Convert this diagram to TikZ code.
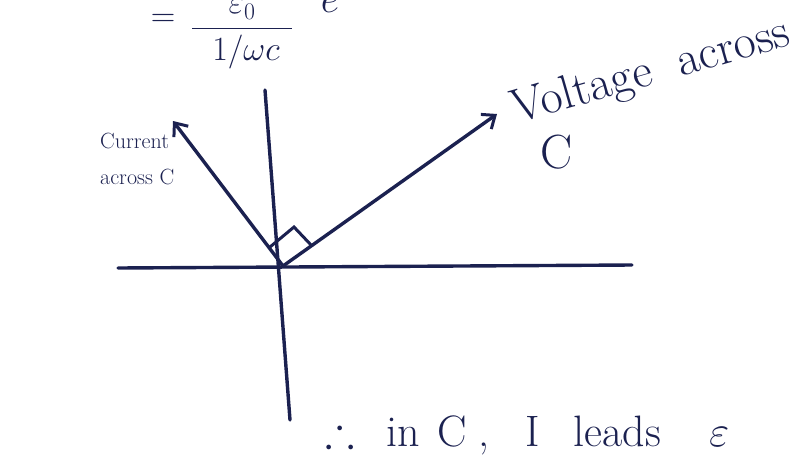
\RequirePackage{fix-cm}
\documentclass[tikz,border=0pt]{standalone}
\usepackage{amsmath,amssymb}
\usepackage{fontspec}
\usetikzlibrary{arrows.meta}
\definecolor{ink}{HTML}{1B2150}
\tikzset{
  axis/.style={draw=ink, line width=3.4pt, line cap=round},
  phasor/.style={draw=ink, line width=3.4pt, line cap=round, -{Straight Barb[length=11pt,width=18pt,line width=3pt]}},
  marker/.style={draw=ink, line width=3pt},
  lbl/.style={text=ink, inner sep=0pt, align=left}
}
\begin{document}
\begin{tikzpicture}[x=1pt,y=-1pt]
\useasboundingbox (0,0) rectangle (811,464);
\clip (0,0) rectangle (811,464);
% origin and axis ends
\coordinate (O) at (283,266);
\coordinate (xl) at (118,268);
\coordinate (xr) at (632,265);
\coordinate (yt) at (265,90);
\coordinate (yb) at (290,420);
\coordinate (I) at (173,121);
\coordinate (V) at (497,114);
\draw[axis] (xl) -- (xr);
\draw[axis] (yt) -- (yb);
\draw[phasor] (O) -- (I);
\draw[phasor] (O) -- (V);
% right-angle marker
\coordinate (m1) at (270,247);
\coordinate (m2) at (294,227);
\coordinate (m3) at (312,246);
\draw[marker] (m1) -- (m2) -- (m3);
% labels
\node[lbl, font=\fontsize{22}{36}\selectfont, anchor=base west] (cur) at (100,148) {Current};
\node[lbl, font=\fontsize{22}{36}\selectfont, anchor=base west] (acr) at (100,184) {across C};
\node[lbl, font=\fontsize{48}{48}\selectfont, anchor=base west, rotate=16] (volt) at (516,124) {Voltage\hspace{28pt}across};
\node[lbl, font=\fontsize{48}{48}\selectfont, anchor=base] (vc) at (557,168) {C};
\node[lbl, font=\fontsize{44}{48}\selectfont, anchor=base west] (concl) at (325,446)
  {$\therefore$\hspace{32pt}in\hspace{17pt}C\hspace{12pt},\hspace{36pt}I\hspace{34pt}leads\hspace{48pt}$\varepsilon$};
% top formula (cut off)
\node[lbl, font=\fontsize{34}{36}\selectfont] (eq) at (163,20) {$=$};
\node[lbl, font=\fontsize{34}{36}\selectfont] (frac) at (242,34) {$\dfrac{\varepsilon_0}{\hspace{20pt}1/\omega c\hspace{12pt}}$};
\node[lbl, font=\fontsize{40}{40}\selectfont, anchor=base] (e) at (330,12) {$e$};
\end{tikzpicture}
\end{document}
